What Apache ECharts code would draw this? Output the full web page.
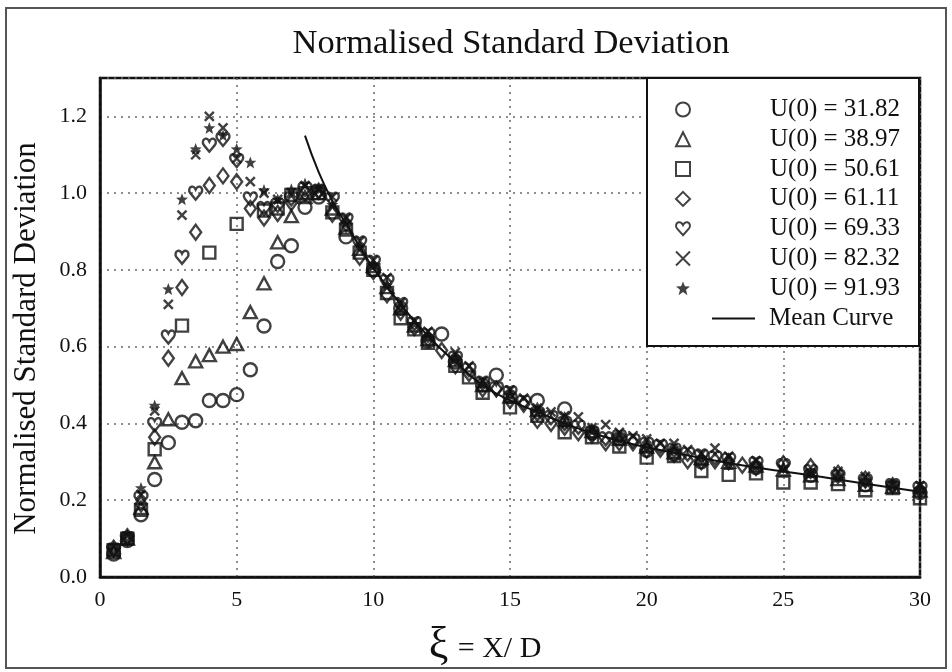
<!DOCTYPE html>
<html>
<head>
<meta charset="utf-8">
<script src="https://cdn.jsdelivr.net/npm/echarts@6/dist/echarts.min.js"></script>
<style>
html,body{margin:0;padding:0;background:#fff;}
#chart{width:952px;height:672px;}
</style>
</head>
<body>
<div id="chart"></div>
<script>
// ---------- data (x = ξ, y = normalised std) ----------
const seriesNames = ['U(0) = 31.82','U(0) = 38.97','U(0) = 50.61','U(0) = 61.11','U(0) = 69.33','U(0) = 82.32','U(0) = 91.93'];
const meanName = 'Mean Curve';

const u3182 = [[0.5,0.06],[1,0.095],[1.5,0.162],[2,0.254],[2.5,0.35],[3,0.403],[3.5,0.407],[4,0.46],[4.5,0.46],[5,0.475],[5.5,0.54],[6,0.654],[6.5,0.822],[7,0.863],[7.5,0.963],[8,0.99],[9,0.886],[10,0.80],[11,0.70],[12,0.615],[12.5,0.633],[13,0.56],[14,0.50],[14.5,0.526],[15,0.47],[16,0.46],[17,0.438],[18,0.375],[19,0.36],[20,0.33],[21,0.32],[22,0.30],[24,0.285],[26,0.265],[28,0.24],[30,0.22]];
const u3897 = [[0.5,0.065],[1,0.1],[1.5,0.18],[2,0.299],[2.5,0.411],[3,0.518],[3.5,0.562],[4,0.578],[4.5,0.60],[5,0.607],[5.5,0.69],[6,0.765],[6.5,0.872],[7,0.94],[7.5,0.99],[8,1.0],[8.5,0.96],[9,0.91],[9.5,0.855],[10,0.81],[10.5,0.755],[11,0.70],[11.5,0.655],[12,0.62],[13,0.565],[14,0.50],[15,0.47],[16,0.435],[17,0.41],[18,0.38],[19,0.36],[20,0.34],[21,0.325],[22,0.31],[23,0.30],[24,0.29],[25,0.28],[26,0.265],[27,0.255],[28,0.24],[29,0.235],[30,0.225]];
const u5061 = [[0.5,0.07],[1,0.1],[1.5,0.175],[2,0.333],[3,0.655],[4,0.845],[5,0.92],[6,0.955],[6.5,0.96],[7,0.995],[7.5,1.0],[8,1.0],[8.5,0.95],[9,0.905],[9.5,0.845],[10,0.80],[10.5,0.74],[11,0.674],[11.5,0.645],[12,0.61],[13,0.55],[13.5,0.52],[14,0.48],[15,0.442],[16,0.42],[17,0.377],[18,0.364],[19,0.34],[20,0.311],[21,0.315],[22,0.276],[23,0.266],[24,0.27],[25,0.246],[26,0.246],[27,0.242],[28,0.226],[29,0.232],[30,0.205]];
const u6111 = [[0.5,0.075],[1,0.105],[1.5,0.19],[2,0.364],[2.5,0.57],[3,0.754],[3.5,0.898],[4,1.02],[4.5,1.045],[5,1.03],[5.5,0.96],[6,0.935],[6.5,0.947],[7,0.975],[7.5,1.0],[8,1.005],[8.5,0.945],[9,0.92],[9.5,0.833],[10,0.796],[10.5,0.735],[11,0.69],[11.5,0.65],[12,0.62],[12.5,0.59],[13,0.55],[13.5,0.53],[14,0.49],[14.5,0.49],[15,0.46],[15.5,0.45],[16,0.408],[16.5,0.40],[17,0.39],[17.5,0.376],[18,0.37],[18.5,0.35],[19,0.35],[19.5,0.35],[20,0.33],[20.5,0.333],[21,0.32],[21.5,0.303],[22,0.30],[22.5,0.303],[23,0.30],[23.5,0.291],[24,0.285],[25,0.295],[26,0.287],[27,0.27],[28,0.255],[29,0.238],[30,0.225]];
const u6933 = [[0.5,0.07],[1,0.1],[1.5,0.205],[2,0.397],[2.5,0.625],[3,0.833],[3.5,1.0],[4,1.125],[4.5,1.14],[5,1.085],[5.5,0.985],[6,0.96],[6.5,0.968],[7,0.985],[7.5,1.01],[8,1.005],[8.5,0.984],[9,0.93],[9.5,0.87],[10,0.82],[10.5,0.77],[11,0.71],[11.5,0.66],[12,0.63],[13,0.57],[13.5,0.54],[14,0.505],[14.5,0.49],[15,0.48],[15.5,0.455],[16,0.425],[16.5,0.415],[17,0.40],[17.5,0.39],[18,0.375],[18.5,0.36],[19,0.365],[19.5,0.355],[20,0.345],[20.5,0.34],[21,0.33],[21.5,0.32],[22,0.315],[22.5,0.31],[23,0.305],[24,0.295],[25,0.29],[26,0.275],[27,0.262],[28,0.25],[29,0.238],[30,0.23]];
const u8232 = [[0.5,0.065],[1,0.095],[1.5,0.215],[2,0.433],[2.5,0.71],[3,0.943],[3.5,1.10],[4,1.20],[4.5,1.17],[5,1.09],[5.5,1.03],[6,1.0],[6.5,0.984],[7,1.0],[7.5,1.02],[8,1.01],[8.5,0.99],[9,0.935],[9.5,0.875],[10,0.825],[10.5,0.78],[11,0.715],[11.5,0.666],[12,0.64],[13,0.585],[13.5,0.55],[14,0.51],[15,0.487],[15.5,0.466],[16,0.44],[16.5,0.43],[17,0.42],[17.5,0.417],[18,0.389],[18.5,0.397],[19,0.377],[19.5,0.368],[20,0.36],[20.5,0.348],[21,0.348],[21.5,0.332],[22,0.32],[22.5,0.336],[23,0.315],[24,0.303],[25,0.28],[26,0.27],[27,0.275],[28,0.262],[29,0.24],[30,0.238]];
const u9193 = [[0.5,0.08],[1,0.11],[1.5,0.232],[2,0.447],[2.5,0.75],[3,0.984],[3.5,1.115],[4,1.17],[4.5,1.15],[5,1.115],[5.5,1.08],[6,1.008],[6.5,0.984],[7,1.01],[7.5,1.025],[8,1.01],[8.5,0.97],[9,0.925],[9.5,0.86],[10,0.81],[10.5,0.76],[11,0.70],[11.5,0.66],[12,0.625],[13,0.57],[14,0.505],[15,0.475],[16,0.43],[17,0.40],[18,0.38],[19,0.36],[20,0.34],[21,0.33],[22,0.31],[23,0.30],[24,0.29],[25,0.285],[26,0.27],[27,0.26],[28,0.25],[29,0.236],[30,0.23]];
const meanCurve = [[7.5,1.15],[8,1.055],[8.5,0.98],[9,0.92],[9.5,0.86],[10,0.805],[11,0.71],[12,0.628],[13,0.56],[14,0.50],[15,0.46],[16,0.43],[17,0.40],[18,0.375],[19,0.355],[20,0.338],[22,0.31],[24,0.285],[26,0.265],[28,0.243],[30,0.222]];

// ---------- styling ----------
const FONT = 'Liberation Serif';
const INK = '#111';
const HEART = 'path://M12,22 L3,12 C0,8.5 1,3.5 5,2.3 C8,1.6 10.5,3.5 12,6.5 C13.5,3.5 16,1.6 19,2.3 C23,3.5 24,8.5 21,12 Z';
const STAR = 'path://M12,1 L14.9,8.6 L23,8.9 L16.7,14 L18.9,22.5 L12,17.6 L5.1,22.5 L7.3,14 L1,8.9 L9.1,8.6 Z';
const CROSS = 'path://M2,2 L22,22 M22,2 L2,22';
const LINE_ICON = 'path://M0,0 L86,0 L86,4 L0,4 Z';

const hollow = {color:'rgba(0,0,0,0)', borderColor:INK, borderWidth:2.4};
const specs = [
  {data:u3182, symbol:'circle', size:13, style:hollow},
  {data:u3897, symbol:'triangle', size:[13,12], style:hollow},
  {data:u5061, symbol:'rect', size:12, style:hollow},
  {data:u6111, symbol:'diamond', size:[11,15], style:hollow},
  {data:u6933, symbol:HEART, size:[13,13], style:hollow},
  {data:u8232, symbol:CROSS, size:[9,9], style:{color:'rgba(0,0,0,0)', borderColor:INK, borderWidth:2.4}},
  {data:u9193, symbol:STAR, size:[12,12], style:{color:INK, borderWidth:0}}
];

const series = specs.map((s,i)=>({
  name: seriesNames[i],
  type:'scatter',
  data:s.data,
  symbol:s.symbol,
  symbolSize:s.size,
  itemStyle:s.style,
  z:2,
  emphasis:{disabled:true}
}));
series.push({
  name: meanName,
  type:'line',
  data: meanCurve,
  smooth:true,
  symbol:'none',
  lineStyle:{color:INK, width:2},
  itemStyle:{color:INK},
  z:3
});

const chart = echarts.init(document.getElementById('chart'), null, {renderer:'canvas'});
chart.setOption({
  animation:false,
  backgroundColor:'#fff',
  title:{
    text:'Normalised Standard Deviation',
    left:506, top:21, textAlign:'center',
    textStyle:{fontFamily:FONT, fontSize:34.5, fontWeight:'normal', color:INK}
  },
  grid:{left:100, right:32, top:78, bottom:63, show:true, borderColor:INK, borderWidth:2.5, backgroundColor:'rgba(0,0,0,0)'},
  xAxis:{
    type:'value', min:0, max:30, interval:5,
    name:'{xi|ξ}{r| = X/ D}',
    nameLocation:'middle', nameGap:46,
    nameTextStyle:{padding:[0,50,0,0], rich:{
      xi:{fontFamily:FONT, fontSize:44, color:INK, padding:[0,2,8,0]},
      r:{fontFamily:FONT, fontSize:30, color:INK}
    }},
    axisLine:{show:true, lineStyle:{color:INK, width:2.5}},
    axisTick:{show:false},
    axisLabel:{fontFamily:FONT, fontSize:22, color:INK, margin:12},
    splitLine:{show:true, lineStyle:{color:'#6a6a6a', width:1.5, type:[2,5]}}
  },
  yAxis:{
    type:'value', min:0, max:1.3, interval:0.2,
    name:'Normalised Standard Deviation',
    nameLocation:'middle', nameGap:58, nameRotate:90,
    nameTextStyle:{fontFamily:FONT, fontSize:31, color:INK, padding:[0,22,0,0]},
    axisLine:{show:true, lineStyle:{color:INK, width:2.5}},
    axisTick:{show:false},
    axisLabel:{fontFamily:FONT, fontSize:22, color:INK, margin:13, showMaxLabel:false,
      formatter:v=>v.toFixed(1)},
    splitLine:{show:true, lineStyle:{color:'#6a6a6a', width:1.5, type:[2,5]}}
  },
  legend:[
    {
      data:seriesNames, orient:'vertical', left:675, top:97, padding:0,
      itemWidth:14, itemHeight:14, itemGap:4.8, z:10,
      selectedMode:false,
      textStyle:{fontFamily:FONT, fontSize:25, color:INK, lineHeight:25, padding:[0,0,0,75]}
    },
    {
      data:[{name:meanName, icon:LINE_ICON, itemStyle:{color:INK, borderWidth:0}}],
      orient:'vertical', left:712, top:306, padding:0,
      itemWidth:43, itemHeight:14, z:10, selectedMode:false,
      textStyle:{fontFamily:FONT, fontSize:25, color:INK, lineHeight:25, padding:[0,0,0,9]}
    }
  ],
  graphic:[
    {type:'rect', shape:{x:647, y:78, width:272, height:268}, style:{fill:'#fff', stroke:INK, lineWidth:2}, z:5},
    {type:'rect', shape:{x:6, y:8, width:940, height:660}, style:{fill:'none', stroke:'#555', lineWidth:2}, z:1, silent:true}
  ],
  series:series
});
</script>
</body>
</html>
